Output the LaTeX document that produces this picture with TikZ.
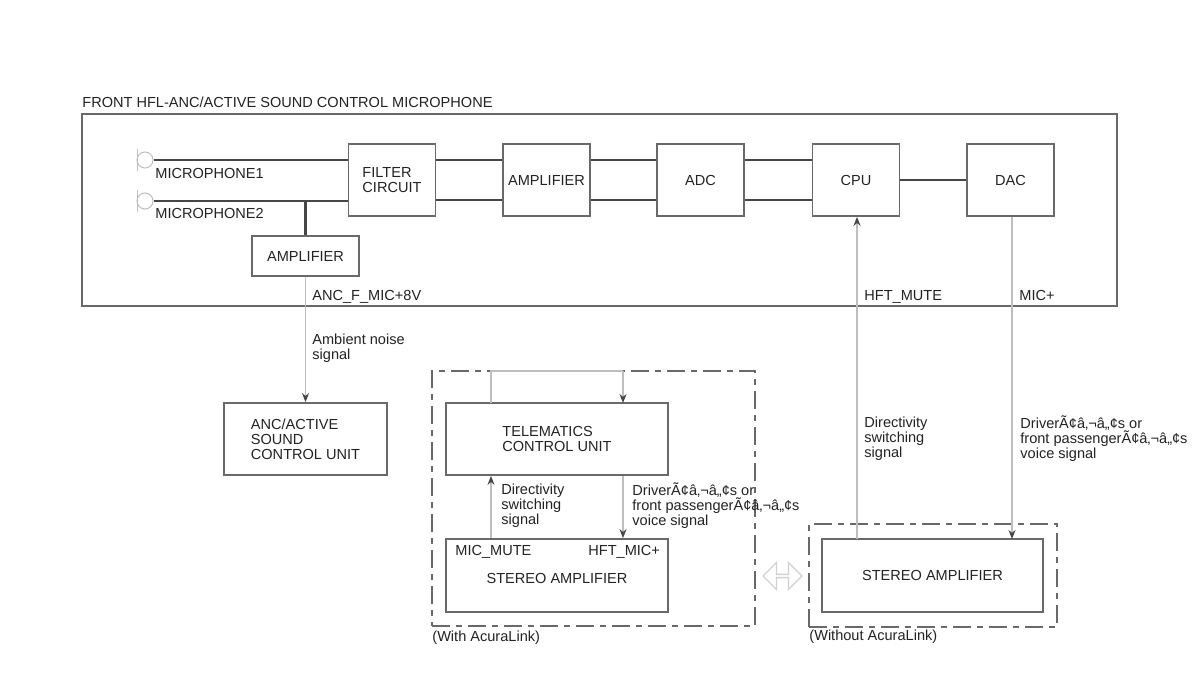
\documentclass[tikz,border=0pt]{standalone}
\usepackage{fontspec}
\setmainfont{Liberation Sans}
\usetikzlibrary{arrows.meta, shapes.arrows}
\definecolor{boxGray}{RGB}{105,105,105}
\definecolor{wireDark}{RGB}{70,70,70}
\definecolor{wireLight}{RGB}{190,190,190}
\definecolor{textDark}{RGB}{35,35,35}

\begin{document}
\begin{tikzpicture}[
    x=0.5pt, y=-0.5pt,
    block/.style={draw=boxGray, line width=0.9pt, minimum width=#1*0.5pt, inner sep=0pt, align=left, font=\fontsize{7.28}{7.5}\selectfont, text=textDark},
    block/.default=87,
    label/.style={anchor=west, inner sep=0pt, align=left, font=\fontsize{7.28}{7.5}\selectfont, text=textDark},
    wire/.style={wireDark, line width=1.2pt},
    signal/.style={wireLight, line width=0.7pt},
    arrow/.style={signal, -{Stealth[length=4.5pt, width=3.5pt, color=wireDark]}},
    dashbox/.style={draw=boxGray, line width=0.8pt, inner sep=0pt, dash pattern=on 9pt off 3pt on 3pt off 3pt},
    mic/.style={draw=wireLight, circle, minimum size=8pt, inner sep=0pt, line width=0.5pt}
]
\useasboundingbox (0,0) rectangle (1200,689);
\fill[white] (0,0) rectangle (1200,689);

% front unit
\node[label] (title) at (82,102) {FRONT HFL-ANC/ACTIVE SOUND CONTROL MICROPHONE};
\node[draw=boxGray, line width=0.9pt, minimum width=517.5pt, minimum height=96pt, inner sep=0pt] (front) at (599.5,210) {};

\node[block, minimum height=36pt, xshift=0.5pt] (filter) at (391,180) {FILTER\\CIRCUIT};
\node[block, minimum height=36pt] (ampl) at (546.5,180) {AMPLIFIER};
\node[block, minimum height=36pt] (adc) at (700.5,180) {ADC};
\node[block, minimum height=36pt] (cpu) at (856,180) {CPU};
\node[block, minimum height=36pt] (dac) at (1010.5,180) {DAC};
\node[block=107, minimum height=20pt] (micamp) at (305.5,256) {AMPLIFIER};

\node[mic] (mica) at (145,160) {};
\node[mic] (micb) at (145,201) {};
\draw[wireLight, line width=0.5pt] (137,149) -- (137,171);
\draw[wireLight, line width=0.5pt] (137,190) -- (137,212);
\node[label] (mica text) at (155,173) {MICROPHONE1};
\node[label] (micb text) at (155,213) {MICROPHONE2};

\draw[wire] (mica.east) -- (filter.west |- mica.east);
\draw[wire] (micb.east) -- (filter.west |- micb.east);
\draw[wire] (micamp.north) -- (micamp.north |- micb.east);
\foreach \from/\to in {filter/ampl, ampl/adc, adc/cpu}{
    \draw[wire] ([yshift=10pt]\from.east) -- ([yshift=10pt]\to.west);
    \draw[wire] ([yshift=-10pt]\from.east) -- ([yshift=-10pt]\to.west);
}
\draw[wire] (cpu) -- (dac);

% lower units
\node[block=163, minimum height=36pt] (ancunit) at (305.5,439) {ANC/ACTIVE\\SOUND\\CONTROL UNIT};
\node[dashbox, minimum width=161.5pt, minimum height=127.5pt] (withlink) at (593.5,498.5) {};
\node[block=222, minimum height=36pt] (tcu) at (557,439) {TELEMATICS\\CONTROL UNIT};
\node[block=222, minimum height=36.5pt] (stereoa) at (557,575.5) {\\[1pt]STEREO AMPLIFIER};
\node[dashbox, minimum width=124pt, minimum height=51.5pt] (nolink) at (933,575.5) {};
\node[block=221, minimum height=36.5pt] (stereob) at (932.5,575.5) {STEREO AMPLIFIER};
\node[double arrow, draw=wireLight!70, line width=0.7pt, minimum width=13.5pt, minimum height=19.5pt, double arrow head extend=2.5pt, inner sep=0pt] (swap) at (782.5,576) {};

\coordinate (loopa) at (491,371);
\coordinate (loopb) at (623,371);
\coordinate (dira) at (491,403);
\coordinate (dirb) at (623,403);
\coordinate (mutetap) at (857,539);
\coordinate (mictap) at (1012,539);

% signals
\draw[arrow] (micamp.south) -- (ancunit.north);
\draw[arrow] (mutetap) -- (mutetap |- cpu.south);
\draw[arrow] (mictap |- dac.south) -- (mictap);
\draw[signal] (dira) -- (loopa) -- (loopb);
\draw[arrow] (loopb) -- (dirb);
\draw[arrow] (stereoa.north -| dira) -- (tcu.south -| dira);
\draw[arrow] (tcu.south -| dirb) -- (stereoa.north -| dirb);

% texts
\node[label] (ancpin) at (312,296.5) {ANC\_F\_MIC+8V};
\node[label] (mutepin) at (864,296.5) {HFT\_MUTE};
\node[label] (micpin) at (1019,295.5) {MIC+};
\node[label] (ambient) at (312,348) {Ambient noise\\signal};
\node[label] (dirb text) at (864,439) {Directivity\\switching\\signal};
\node[label] (voiceb) at (1020,439) {DriverÃ¢â‚¬â„¢s or\\front passengerÃ¢â‚¬â„¢s\\voice signal};
\node[label] (dira text) at (501,506) {Directivity\\switching\\signal};
\node[label] (voicea) at (632,506) {DriverÃ¢â‚¬â„¢s or\\front passengerÃ¢â‚¬â„¢s\\voice signal};
\node[label] (mutea) at (455,552) {MIC\_MUTE};
\node[label] (hfta) at (588,552) {HFT\_MIC+};
\node[label] (withtext) at (432,638) {(With AcuraLink)};
\node[label] (notext) at (809,637) {(Without AcuraLink)};
\end{tikzpicture}
\end{document}
